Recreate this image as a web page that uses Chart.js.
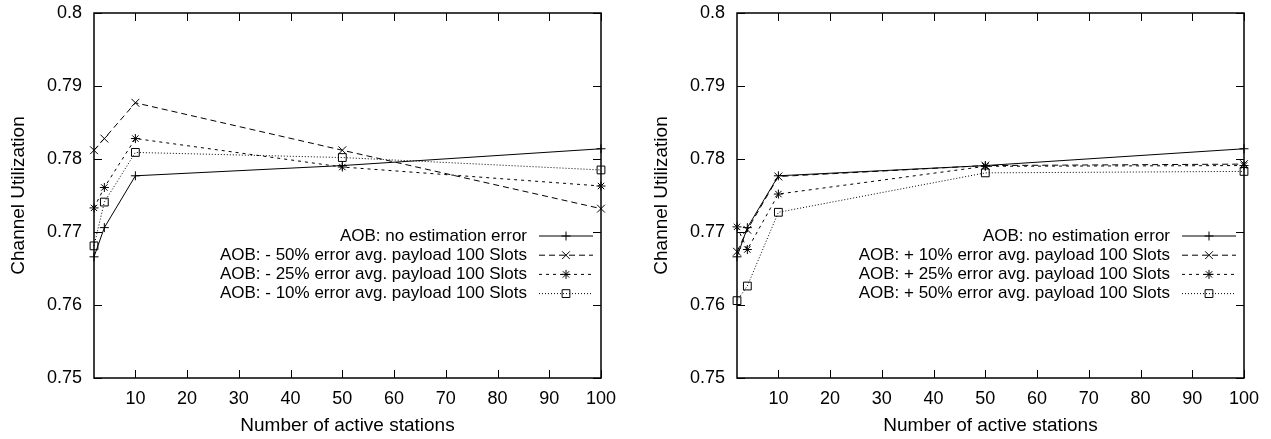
<!DOCTYPE html>
<html>
<head>
<meta charset="utf-8">
<script src="https://cdn.jsdelivr.net/npm/chart.js@4.4.1/dist/chart.umd.min.js"></script>
<style>
body { margin: 0; background: #fff; width: 1271px; height: 439px; overflow: hidden; position: relative; }
.panel { position: absolute; top: 0; height: 439px; }
</style>
</head>
<body>
<div class="panel" style="left:0;width:640px"><canvas id="leftChart"></canvas></div>
<div class="panel" style="left:643px;width:628px"><canvas id="rightChart"></canvas></div>
<script>
// data
const stations = [2, 4, 10, 50, 100];
const xTicks = [10, 20, 30, 40, 50, 60, 70, 80, 90, 100];
const yTicks = [0.75, 0.76, 0.77, 0.78, 0.79, 0.8];
const yTickLabels = ['0.75', '0.76', '0.77', '0.78', '0.79', '0.8'];

const noError = [0.7666, 0.7706, 0.7777, 0.7791, 0.7814];
const minus50 = [0.7812, 0.7828, 0.7877, 0.7812, 0.7732];
const minus25 = [0.7733, 0.7761, 0.7828, 0.7789, 0.7763];
const minus10 = [0.7681, 0.7741, 0.7809, 0.7802, 0.7785];
const plus10 = [0.7673, 0.7703, 0.7776, 0.7791, 0.7793];
const plus25 = [0.7707, 0.7676, 0.7752, 0.7790, 0.7791];
const plus50 = [0.7606, 0.7626, 0.7727, 0.7781, 0.7783];

const leftLabels = ['AOB: no estimation error', 'AOB: - 50% error avg. payload 100 Slots',
    'AOB: - 25% error avg. payload 100 Slots', 'AOB: - 10% error avg. payload 100 Slots'];
const rightLabels = ['AOB: no estimation error', 'AOB: + 10% error avg. payload 100 Slots',
    'AOB: + 25% error avg. payload 100 Slots', 'AOB: + 50% error avg. payload 100 Slots'];

const FONT = "'Liberation Sans', Arial, Helvetica, sans-serif";
const lineStyles = [
    { dash: [], point: 'cross', r: 4.5 },
    { dash: [6, 4], point: 'crossRot', r: 5.5 },
    { dash: [3, 4], point: 'star', r: 4.5 },
    { dash: [1, 2], point: 'rect', r: 5.5 }
];

function drawMarker(ctx, style, x, y, r) {
    ctx.beginPath();
    if (style === 'cross' || style === 'star') {
        ctx.moveTo(x - r, y); ctx.lineTo(x + r, y);
        ctx.moveTo(x, y - r); ctx.lineTo(x, y + r);
    }
    if (style === 'crossRot' || style === 'star') {
        const d = r * Math.SQRT1_2;
        ctx.moveTo(x - d, y - d); ctx.lineTo(x + d, y + d);
        ctx.moveTo(x - d, y + d); ctx.lineTo(x + d, y - d);
    }
    if (style === 'rect') {
        const s = r * Math.SQRT1_2;
        ctx.rect(x - s, y - s, 2 * s, 2 * s);
    }
    ctx.stroke();
}

// gnuplot-like frame, inward ticks and in-plot legend
const framePlugin = {
    id: 'frame',
    afterDraw(chart) {
        const ctx = chart.ctx, a = chart.chartArea;
        const xs = chart.scales.x, ys = chart.scales.y;
        ctx.save();
        ctx.strokeStyle = '#000';
        ctx.lineWidth = 1.5;
        ctx.setLineDash([]);
        ctx.strokeRect(a.left, a.top, a.right - a.left, a.bottom - a.top);
        ctx.lineWidth = 1;
        ctx.beginPath();
        xTicks.forEach(v => {
            const px = Math.round(xs.getPixelForValue(v)) + 0.5;
            ctx.moveTo(px, a.bottom); ctx.lineTo(px, a.bottom - 8);
            ctx.moveTo(px, a.top); ctx.lineTo(px, a.top + 8);
        });
        yTicks.forEach(v => {
            const py = Math.round(ys.getPixelForValue(v)) + 0.5;
            ctx.moveTo(a.left, py); ctx.lineTo(a.left + 8, py);
            ctx.moveTo(a.right, py); ctx.lineTo(a.right - 8, py);
        });
        ctx.stroke();

        // legend
        ctx.font = '17px ' + FONT;
        ctx.fillStyle = '#000';
        ctx.textAlign = 'right';
        ctx.textBaseline = 'middle';
        chart.data.datasets.forEach((ds, i) => {
            const st = lineStyles[i];
            const y = a.top + 223 + i * 19.2;
            ctx.fillText(ds.label, a.right - 74, y);
            ctx.setLineDash(st.dash);
            ctx.beginPath();
            ctx.moveTo(a.right - 62, y); ctx.lineTo(a.right - 8, y);
            ctx.stroke();
            ctx.setLineDash([]);
            drawMarker(ctx, st.point, a.right - 35, y, st.r);
        });
        ctx.restore();
    }
};

function makeChart(id, series, labels, rightPad) {
    const datasets = series.map((vals, i) => ({
        label: labels[i],
        data: stations.map((s, k) => ({ x: s, y: vals[k] })),
        borderColor: '#000',
        backgroundColor: 'rgba(0,0,0,0)',
        borderWidth: 1,
        borderDash: lineStyles[i].dash,
        pointStyle: lineStyles[i].point,
        pointRadius: lineStyles[i].r,
        pointBorderWidth: 1,
        pointBorderColor: '#000',
        pointBackgroundColor: 'rgba(0,0,0,0)',
        tension: 0,
        clip: false
    }));
    return new Chart(document.getElementById(id), {
        type: 'line',
        data: { datasets: datasets },
        plugins: [framePlugin],
        options: {
            responsive: true,
            maintainAspectRatio: false,
            animation: false,
            layout: { padding: { left: 0, right: rightPad, top: 13, bottom: 0 } },
            plugins: { legend: { display: false }, tooltip: { enabled: false } },
            scales: {
                x: {
                    type: 'linear', min: 2, max: 100,
                    grid: { display: false, drawTicks: false },
                    border: { display: false },
                    afterBuildTicks: s => { s.ticks = xTicks.map(v => ({ value: v })); },
                    afterFit: s => { s.height = 61; },
                    ticks: { padding: 10, color: '#000', font: { family: FONT, size: 18 }, maxRotation: 0 },
                    title: { display: true, text: 'Number of active stations', color: '#000',
                        font: { family: FONT, size: 19 }, padding: { top: 0, bottom: 2 } }
                },
                y: {
                    min: 0.75, max: 0.8,
                    grid: { display: false, drawTicks: false },
                    border: { display: false },
                    afterBuildTicks: s => { s.ticks = yTicks.map(v => ({ value: v })); },
                    afterFit: s => { s.width = 94; s.paddingTop = 0; s.paddingBottom = 0; },
                    ticks: { padding: 12, color: '#000', font: { family: FONT, size: 18 },
                        callback: (v) => yTickLabels[yTicks.findIndex(t => Math.abs(t - v) < 1e-6)] },
                    title: { display: true, text: 'Channel Utilization', color: '#000',
                        font: { family: FONT, size: 19 }, padding: { top: 7, bottom: 0 } }
                }
            }
        }
    });
}

makeChart('leftChart', [noError, minus50, minus25, minus10], leftLabels, 39);
makeChart('rightChart', [noError, plus10, plus25, plus50], rightLabels, 27);
</script>
</body>
</html>
